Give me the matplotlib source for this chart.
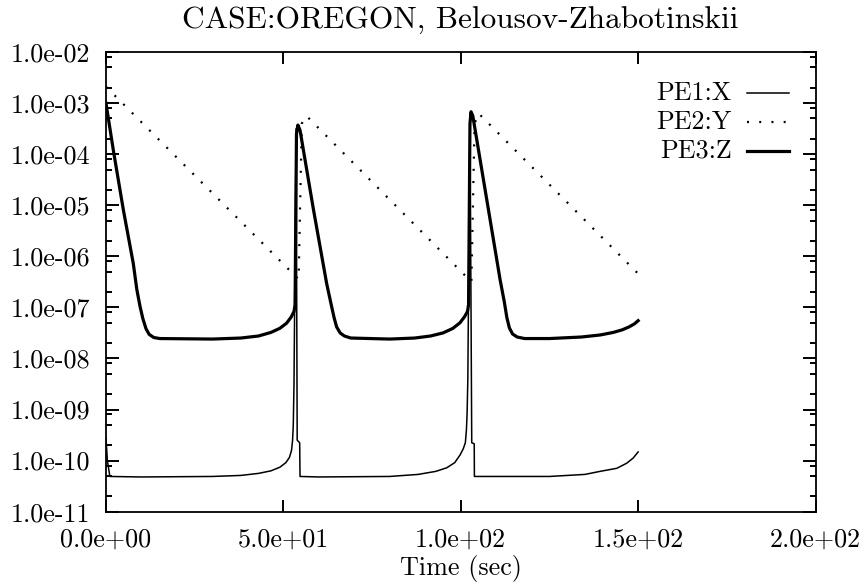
import numpy as np
import matplotlib.pyplot as plt
from matplotlib.ticker import LogLocator, FixedLocator, FuncFormatter, NullLocator

plt.rcParams['font.family'] = ['cmr10', 'DejaVu Serif']
plt.rcParams['font.size'] = 18.8

# Time (sec) and log10 of concentration
t_x = [0.0, 0.4, 1.1, 10.0, 30.0, 38.0, 43.0, 46.5, 49.0, 50.7, 51.7, 52.3,
       52.6, 52.8, 53.0, 53.6, 53.9, 54.6, 54.7, 60.0, 80.0, 88.0, 93.0, 96.06,
       98.3, 99.8, 100.7, 101.3, 101.6, 101.8, 102.0, 102.6, 103.1, 103.8,
       103.85, 125.0, 135.0, 139.3, 144.0, 146.8, 148.6, 150.0]
logx = [-9.55, -10.0, -10.31, -10.32, -10.31, -10.29, -10.25, -10.20, -10.13, -10.04, -9.94, -9.80,
        -9.60, -9.30, -8.5, -3.5, -9.6, -9.65, -10.31, -10.32, -10.31, -10.27, -10.21, -10.14,
        -10.04, -9.89, -9.77, -9.65, -9.40, -9.06, -8.4, -3.2, -9.65, -9.67,
        -10.31, -10.31, -10.27, -10.21, -10.15, -10.05, -9.95, -9.83]

t_y = [0.0, 54.3, 55.2, 56.5, 103.0, 103.9, 105.0, 150.0]
logy = [-2.68, -6.45, -3.4, -3.25, -6.5, -3.4, -3.2, -6.34]

t_z = [0.0, 2.07, 4.9, 7.7, 8.7, 9.6, 10.4, 11.3, 12.2, 13.5, 15.2, 30.0,
       38.0, 43.0, 46.5, 49.0, 50.9, 52.2, 53.0, 53.3, 53.7, 54.1, 54.7, 58.5,
       62.2, 63.5, 64.3, 65.0, 66.0, 67.2, 69.0, 80.0, 87.0, 91.5, 95.0, 97.8,
       99.8, 101.1, 101.9, 102.2, 102.6, 102.9, 103.4, 111.1, 112.3, 113.0,
       113.7, 114.6, 115.9, 118.0, 125.0, 134.0, 139.3, 143.0, 145.5, 147.5,
       149.0, 150.0]
logz = [-3.0, -3.92, -5.09, -6.14, -6.65, -6.98, -7.22, -7.42, -7.53, -7.59, -7.61, -7.62,
        -7.60, -7.56, -7.49, -7.41, -7.31, -7.19, -7.08, -6.95, -3.6, -3.43, -3.53, -5.09,
        -6.53, -6.95, -7.20, -7.38, -7.50, -7.56, -7.60, -7.62, -7.60, -7.56, -7.50, -7.41,
        -7.30, -7.18, -7.08, -6.95, -3.4, -3.17, -3.25, -6.46, -6.90, -7.20,
        -7.40, -7.52, -7.58, -7.61, -7.61, -7.58, -7.54, -7.49, -7.44, -7.38,
        -7.32, -7.26]

labels = ['PE1:X', 'PE2:Y', 'PE3:Z']

fig = plt.figure(figsize=(8.65, 5.85), dpi=100)
ax = fig.add_axes([0.1225, 0.1253, 0.8203, 0.7858])

dot = dict(dashes=(0.9, 4.6), dash_capstyle='butt')
styles = [dict(lw=1.1), dict(lw=1.6, **dot), dict(lw=2.3)]

for tt, vv, st in zip([t_x, t_y, t_z], [logx, logy, logz], styles):
    ax.plot(tt, 10.0 ** np.array(vv), color='black', **st)

ax.set_yscale('log')
ax.set_xlim(0, 200)
ax.set_ylim(1e-11, 1e-2)

ax.xaxis.set_major_locator(FixedLocator([0, 50, 100, 150, 200]))
ax.xaxis.set_minor_locator(NullLocator())
ax.yaxis.set_major_locator(LogLocator(base=10, numticks=20))
ax.yaxis.set_minor_locator(LogLocator(base=10, subs=[2, 5, 8], numticks=20))
fmt = FuncFormatter(lambda v, p: f'{v:.1e}')
ax.xaxis.set_major_formatter(fmt)
ax.yaxis.set_major_formatter(fmt)

ax.tick_params(which='both', direction='in', top=True, right=True,
               width=1.4, color='black')
ax.tick_params(axis='y', which='major', length=9.4, pad=11)
ax.tick_params(axis='y', which='minor', length=4.3)
ax.tick_params(axis='x', which='major', length=8.4, pad=12)
for s in ax.spines.values():
    s.set_linewidth(1.3)

ax.set_title('CASE:OREGON, Belousov-Zhabotinskii', pad=17)
ax.set_xlabel('Time (sec)')
ax.xaxis.set_label_coords(0.5, -0.095)

# key, text right-aligned with line samples on its right
rows = [0.9108, 0.8477, 0.7846]
for lab, yy, st in zip(labels, rows, styles):
    ax.text(0.8823, yy, lab, transform=ax.transAxes, ha='right', va='center')
    ax.plot([0.9034, 0.9627], [yy, yy], transform=ax.transAxes,
            color='black', **st)

fig.savefig('out.png', dpi=100)
